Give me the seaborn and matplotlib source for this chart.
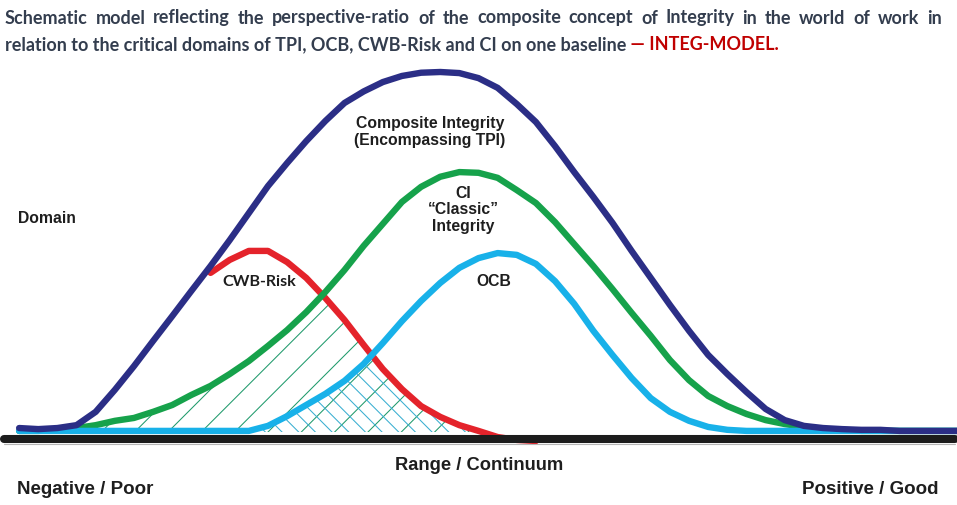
import numpy as np
import pandas as pd
import matplotlib
matplotlib.use("Agg")
import matplotlib.pyplot as plt
import seaborn as sns

# ---- data (continuum 0-100, level: composite peak = 100) ----
continuum = [2, 4, 6, 8, 10, 12, 14, 16, 18, 20, 22, 24, 26, 28, 30, 32, 34, 36, 38, 40,
             42, 44, 46, 48, 50, 52, 54, 56, 58, 60, 62, 64, 66, 68, 70, 72, 74, 76, 78, 80,
             82, 84, 86, 88, 90, 92, 94, 96, 98, 100]

composite = [1.1, 0.8, 1.1, 1.9, 5.6, 11.7, 18.3, 25.3, 32.2, 39.2, 46.1, 53.3, 60.8, 68.3,
             74.7, 80.8, 86.4, 91.4, 94.6, 97.2, 98.9, 99.8, 100.0, 99.7, 98.3, 95.6, 91.1,
             86.1, 79.4, 72.2, 65.3, 58.1, 50.3, 42.8, 35.3, 28.1, 21.4, 16.1, 11.1, 6.4,
             3.3, 1.7, 1.1, 0.8, 0.6, 0.6, 0.3, 0.3, 0.3, 0.3]

classic = [0.3, 0.3, 0.6, 1.1, 1.9, 3.1, 3.9, 5.6, 7.5, 10.3, 12.8, 16.1, 19.7, 23.9, 28.3,
           33.3, 38.9, 45.0, 51.7, 57.8, 63.9, 68.1, 70.9, 72.2, 72.0, 70.6, 67.2, 63.6,
           58.3, 52.2, 46.1, 39.7, 33.1, 26.7, 20.0, 14.4, 10.0, 7.2, 5.0, 3.3, 2.2, 1.4,
           0.8, 0.6, 0.3, 0.3, 0.3, 0.3, 0.3, 0.3]

ocb = [0.3, 0.3, 0.3, 0.3, 0.3, 0.3, 0.3, 0.3, 0.3, 0.3, 0.3, 0.3, 0.3, 1.7, 4.4, 7.5, 10.6,
       14.2, 18.9, 24.7, 30.8, 36.4, 41.4, 45.6, 48.3, 49.7, 49.2, 46.7, 41.9, 35.6, 28.1,
       21.4, 15.0, 9.4, 5.6, 3.1, 1.4, 0.6, 0.3, 0.3, 0.3, 0.3, 0.3, 0.3, 0.3, 0.3, 0.3,
       0.3, 0.3, 0.3]

cwb_risk = [np.nan] * 10 + [44.2, 47.8, 50.3, 50.3, 47.2, 42.8, 37.2, 31.1, 24.2, 17.5,
                            11.9, 7.2, 4.2, 1.9, 0.3, -1.4, -2.2, -2.5] + [np.nan] * 22

domain_names = ["CWB-Risk", "CI", "OCB", "Composite"]
domain_colors = {"CWB-Risk": "#e4232b", "CI": "#16a24b", "OCB": "#18b1e9", "Composite": "#2b2e86"}

title_line1 = ("Schematic model reflecting the perspective-ratio of the composite concept "
               "of Integrity in the world of work in")
title_line2 = "relation to the critical domains of TPI, OCB, CWB-Risk and CI on one baseline"
title_tag = " \u2014 INTEG-MODEL."

df = pd.DataFrame({
    "continuum": continuum * 4,
    "level": cwb_risk + classic + ocb + composite,
    "domain": np.repeat(domain_names, len(continuum)),
}).dropna()

# ---- figure: axes fill the whole canvas, baseline level 0 ----
sns.set_theme(style="white")
plt.rcParams["hatch.linewidth"] = 0.75
fig = plt.figure(figsize=(9.57, 5.05), dpi=100)
ax = fig.add_axes([0, 0, 1, 1])
ax.set_xlim(0, 100)
ax.set_ylim(-20.28, 120)
ax.axis("off")

x = np.array(continuum)
risk = np.array(cwb_risk)
ci = np.array(classic)
oc = np.array(ocb)

# hatched overlap zones
upper_ci = np.fmin(ci, risk)
ax.fill_between(x, 0, upper_ci, where=(x >= 10) & (x <= 50), interpolate=True,
                facecolor="none", edgecolor="#1f9a6c", linewidth=0, hatch="/", zorder=1)
upper_ocb = np.fmin(oc, risk)
ax.fill_between(x, 0, upper_ocb, where=(x >= 26) & (x <= 50), interpolate=True,
                facecolor="none", edgecolor="#39aed0", linewidth=0, hatch="\\\\", zorder=1)

for name in domain_names:
    sns.lineplot(data=df[df["domain"] == name], x="continuum", y="level",
                 color=domain_colors[name], linewidth=4.6, estimator=None, sort=False,
                 ax=ax, legend=False, zorder=3, solid_capstyle="round")

# baseline
ax.axhline(-1.94, xmin=0.004, xmax=0.998, color="#1c1c1c", linewidth=5.8, zorder=5)
ax.axhline(-3.4, xmin=0.004, xmax=0.998, color="#b5b5b5", linewidth=0.8, zorder=4)


def px(xp, yp):
    return xp / 957, 1 - yp / 505


lab = dict(family=["Liberation Sans", "DejaVu Sans"], fontweight="bold", color="#1e1e1e")
fig.text(*px(18, 219), "Domain", fontsize=11.3, ha="left", va="center", **lab)
fig.text(*px(430, 132), "Composite Integrity\n(Encompassing TPI)", fontsize=11.3,
         ha="center", va="center", linespacing=1.15, **lab)
fig.text(*px(463, 210), "CI\n\u201cClassic\u201d\nIntegrity", fontsize=11.3,
         ha="center", va="center", linespacing=1.15, **lab)
fig.text(*px(494, 282), "OCB", fontsize=11.3, ha="center", va="center", **lab)
fig.text(*px(259, 282), "CWB-Risk", fontsize=11.5, ha="center", va="center",
         family=["Lato", "DejaVu Sans"], fontweight="bold", color="#1e1e1e")
fig.text(*px(479, 466), "Range / Continuum", fontsize=13.2, ha="center", va="center", **lab)
fig.text(*px(17, 489), "Negative / Poor", fontsize=13.5, ha="left", va="center", **lab)
fig.text(*px(939, 489), "Positive / Good", fontsize=13.5, ha="right", va="center", **lab)

# title: first line justified across the width, second line natural
tfont = dict(family=["Lato", "DejaVu Sans"], fontweight="bold", fontsize=12.95)
renderer = fig.canvas.get_renderer()
words = title_line1.split()
word_texts = [fig.text(0, 1 - 18 / 505, w, ha="left", va="center", color="#333d4e", **tfont)
              for w in words]
widths = [t.get_window_extent(renderer).width for t in word_texts]
gap = (942 - 5 - sum(widths)) / (len(words) - 1)
left = 5
for t, w in zip(word_texts, widths):
    t.set_x(left / 957)
    left += w + gap

t2 = fig.text(*px(5, 45), title_line2, ha="left", va="center", color="#333d4e", **tfont)
ax.annotate(title_tag, xy=(1, 0.5), xycoords=t2, ha="left", va="center",
            color="#c00000", **tfont)

fig.savefig("out.png", dpi=100, facecolor="white")
